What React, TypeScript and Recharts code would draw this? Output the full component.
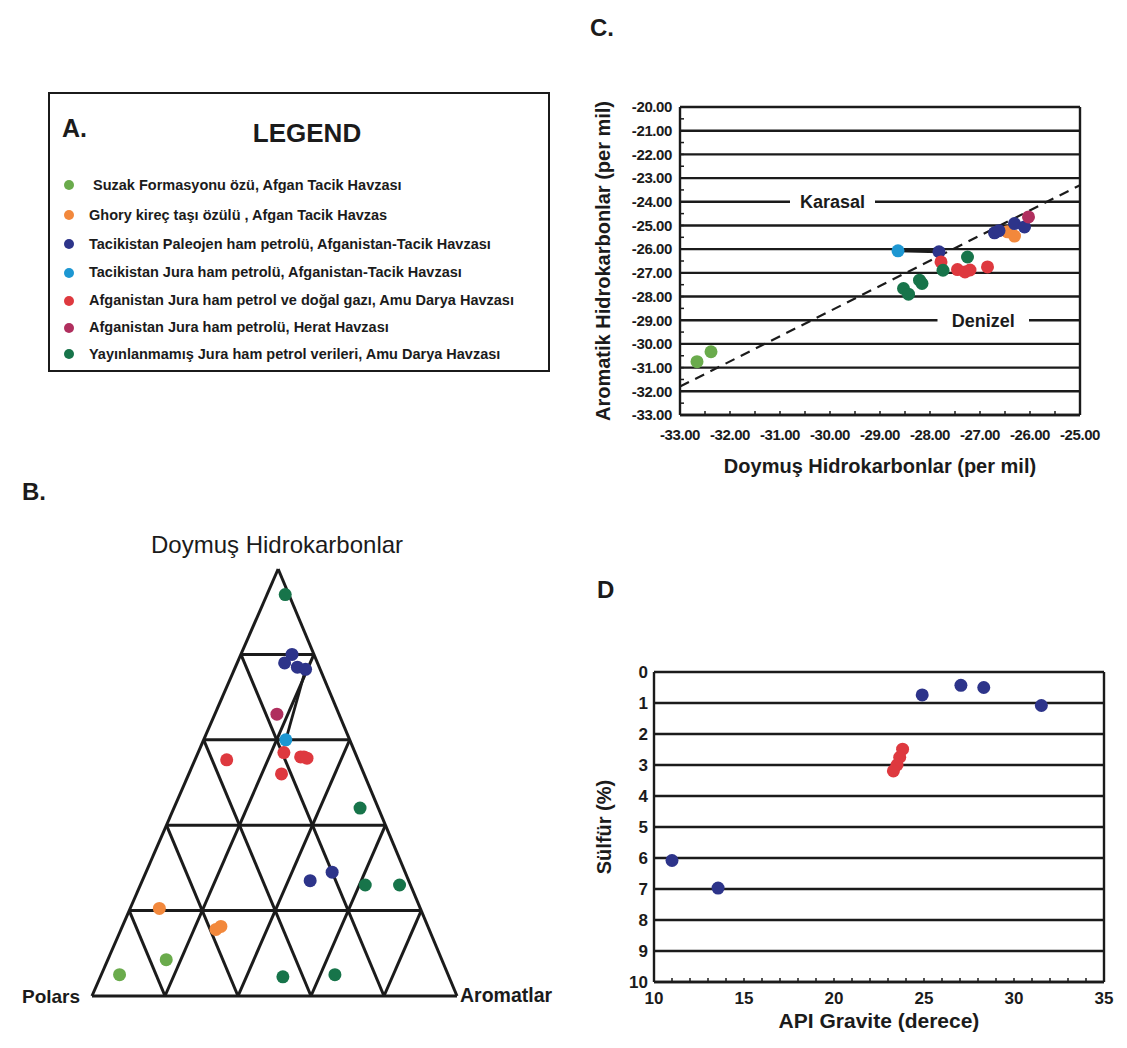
import React from 'react';
import {
  ScatterChart,
  Scatter,
  XAxis,
  YAxis,
  CartesianGrid,
  ReferenceLine,
  ReferenceArea,
  Label,
} from 'recharts';

const FONT = '"Liberation Sans", Arial, Helvetica, sans-serif';
const INK = '#1b1b1b';

// legend groups, same order everywhere
const GROUP_NAMES = [
  'Suzak Formasyonu özü, Afgan Tacik Havzası',
  'Ghory kireç taşı özülü , Afgan Tacik Havzas',
  'Tacikistan Paleojen ham petrolü, Afganistan-Tacik Havzası',
  'Tacikistan Jura ham petrolü, Afganistan-Tacik Havzası',
  'Afganistan Jura ham petrol ve doğal gazı, Amu Darya Havzası',
  'Afganistan Jura ham petrolü, Herat Havzası',
  'Yayınlanmamış Jura ham petrol verileri, Amu Darya Havzası',
];
const GROUP_COLORS = ['#6aab4c', '#f2883c', '#2d348a', '#1d97d2', '#de393f', '#b02f5e', '#17744a'];

// B: ternary [doymuş, aromatik, polar] %
const B_SUZAK = [[8.5, 16, 75.5], [5, 5, 90]];
const B_GHORY = [[20.5, 8, 71.5], [15.6, 26, 58.4], [16.3, 27, 56.7]];
const B_PALEOJEN = [[80, 14, 6], [78, 13, 9], [77, 17, 6], [76.5, 19.5, 4], [29, 51, 20], [27, 46, 27]];
const B_TACIK_JURA = [[60, 22.5, 17.5]];
const B_AMU_DARYA = [[57, 23.5, 19.5], [56, 28.6, 15.4], [56, 29.5, 14.5], [55.7, 30.5, 13.8], [55.3, 8.7, 36], [52, 25.4, 22.6]];
const B_HERAT = [[66, 17, 17]];
const B_YAYIN = [[94, 5, 1], [44, 51, 5], [26, 61.6, 12.4], [26, 71, 3], [4.5, 50, 45.5], [5, 64, 31]];
const B_SERIES = [B_SUZAK, B_GHORY, B_PALEOJEN, B_TACIK_JURA, B_AMU_DARYA, B_HERAT, B_YAYIN];
const B_TIE = [[76.5, 19.5, 4], [60, 22.5, 17.5]];
const B_STEPS = [0.2, 0.4, 0.6, 0.8];
const B_APEX = 0.51; // apex sits a touch right of centre in the original drawing

// C: doymuş (x) vs aromatik (y), per mil
const C_SUZAK = [[-32.66, -30.75], [-32.38, -30.33]];
const C_GHORY = [[-26.45, -25.27], [-26.31, -25.45]];
const C_PALEOJEN = [[-27.82, -26.11], [-26.71, -25.31], [-26.62, -25.22], [-26.31, -24.92], [-26.11, -25.06]];
const C_TACIK_JURA = [[-28.64, -26.07]];
const C_AMU_DARYA = [[-27.78, -26.54], [-27.45, -26.86], [-27.3, -26.96], [-27.2, -26.88], [-26.85, -26.75]];
const C_HERAT = [[-26.03, -24.64]];
const C_YAYIN = [[-27.74, -26.89], [-27.25, -26.33], [-28.53, -27.66], [-28.43, -27.9], [-28.21, -27.31], [-28.16, -27.45]];
const C_SERIES = [C_SUZAK, C_GHORY, C_PALEOJEN, C_TACIK_JURA, C_AMU_DARYA, C_HERAT, C_YAYIN];
const C_TIE = [[-28.64, -26.07], [-27.82, -26.11]];
const C_DIVIDE = [[-33, -31.8], [-25, -23.3]];
const C_X_MAJOR = [-33, -32, -31, -30, -29, -28, -27, -26, -25];
const C_X_MINOR = [-32.5, -31.5, -30.5, -29.5, -28.5, -27.5, -26.5, -25.5];
const C_Y_MAJOR = [-33, -32, -31, -30, -29, -28, -27, -26, -25, -24, -23, -22, -21, -20];
const C_Y_MINOR = [-32.5, -31.5, -30.5, -29.5, -28.5, -27.5, -26.5, -25.5, -24.5, -23.5, -22.5, -21.5, -20.5];
const C_ZONES = [
  { text: 'Karasal', x1: -30.8, x2: -29.1, y: -24 },
  { text: 'Denizel', x1: -27.85, x2: -26.02, y: -29 },
];

// D: API gravite vs sülfür %
const D_PALEOJEN = [[24.9, 0.74], [27.05, 0.43], [28.32, 0.5], [31.52, 1.08], [11.0, 6.08], [13.56, 6.97]];
const D_AMU_DARYA = [[23.81, 2.49], [23.65, 2.75], [23.5, 3.0], [23.3, 3.19]];
const D_X_TICKS = [10, 11, 12, 13, 14, 15, 16, 17, 18, 19, 20, 21, 22, 23, 24, 25, 26, 27, 28, 29, 30, 31, 32, 33, 34, 35];
const D_Y_TICKS = [0, 1, 2, 3, 4, 5, 6, 7, 8, 9, 10];

const toXY = (pts: number[][]) => pts.map(([x, y]) => ({ x, y }));
// barycentric -> plot coords: Polars (0,0), Aromatlar (1,0), Doymuş (APEX,1)
const tern = (s: number, a: number) => ({ x: a + s * B_APEX, y: s });
const toTernary = (pts: number[][]) =>
  pts.map(([s, a, p]) => {
    const t = s + a + p;
    return tern(s / t, a / t);
  });

const triLines = [
  [tern(0, 0), tern(0, 1)],
  [tern(0, 0), tern(1, 0)],
  [tern(0, 1), tern(1, 0)],
  ...B_STEPS.flatMap((k) => [
    [tern(k, 0), tern(k, 1 - k)], // constant doymuş
    [tern(0, k), tern(1 - k, k)], // constant aromatik
    [tern(0, 1 - k), tern(1 - k, 0)], // constant polar
  ]),
];

const dot = (r: number, color: string) => (props: any) =>
  <circle cx={props.cx} cy={props.cy} r={r} fill={color} />;

const bold = (size: number) => ({ fill: INK, fontSize: size, fontWeight: 700, fontFamily: FONT });

function Txt({ x, y, size, weight = 700, center = false, children }: any) {
  return (
    <div
      style={{
        position: 'absolute',
        left: x,
        top: y - size * 0.49,
        fontSize: size,
        lineHeight: 1,
        fontWeight: weight,
        color: INK,
        whiteSpace: 'nowrap',
        transform: center ? 'translateX(-50%)' : undefined,
      }}
    >
      {children}
    </div>
  );
}

function LegendBox() {
  const rowY = [185, 215, 244, 272.5, 300.5, 327.5, 354];
  return (
    <>
      <div
        style={{
          position: 'absolute',
          left: 48,
          top: 92,
          width: 502,
          height: 280,
          border: `2px solid ${INK}`,
          boxSizing: 'border-box',
        }}
      />
      <Txt x={62} y={128} size={25}>A.</Txt>
      <Txt x={307} y={133} size={26} center>LEGEND</Txt>
      {GROUP_NAMES.map((name, i) => (
        <React.Fragment key={name}>
          <div
            style={{
              position: 'absolute',
              left: 64,
              top: rowY[i] - 5,
              width: 10,
              height: 10,
              borderRadius: 5,
              background: GROUP_COLORS[i],
            }}
          />
          <Txt x={i === 0 ? 93 : 89} y={rowY[i]} size={14.5}>{name}</Txt>
        </React.Fragment>
      ))}
    </>
  );
}

function Ternary() {
  const tie = toTernary(B_TIE);
  return (
    <div style={{ position: 'absolute', left: 0, top: 540 }}>
      <ScatterChart width={560} height={480} margin={{ top: 29, right: 103, bottom: 24, left: 92 }}>
        <XAxis type="number" dataKey="x" domain={[0, 1]} hide />
        <YAxis type="number" dataKey="y" domain={[0, 1]} hide />
        {triLines.map((seg, i) => (
          <ReferenceLine key={i} segment={seg} stroke={INK} strokeWidth={3} />
        ))}
        <ReferenceLine segment={tie} stroke={INK} strokeWidth={2.8} />
        {B_SERIES.map((pts, i) => (
          <Scatter key={i} data={toTernary(pts)} shape={dot(6.5, GROUP_COLORS[i])} isAnimationActive={false} />
        ))}
      </ScatterChart>
    </div>
  );
}

function IsotopeChart() {
  const xTicks = [...C_X_MAJOR, ...C_X_MINOR].sort((a, b) => a - b);
  const yTicks = [...C_Y_MAJOR, ...C_Y_MINOR].sort((a, b) => a - b);
  const fmt = (v: number) => (Number.isInteger(v) ? v.toFixed(2) : '');
  return (
    <div style={{ position: 'absolute', left: 580, top: 80 }}>
      <ScatterChart width={547} height={420} margin={{ top: 27, right: 47, bottom: 55, left: 20 }}>
        <CartesianGrid vertical={false} horizontalValues={C_Y_MAJOR} stroke={INK} strokeWidth={2.4} />
        <XAxis
          type="number"
          dataKey="x"
          domain={[-33, -25]}
          ticks={xTicks}
          interval={0}
          tickFormatter={fmt}
          tickSize={-4}
          tickMargin={18}
          height={30}
          axisLine={{ stroke: INK, strokeWidth: 2.4 }}
          tickLine={{ stroke: INK, strokeWidth: 1.5 }}
          tick={{ ...bold(15), letterSpacing: -0.4 }}
        >
          <Label value="Doymuş Hidrokarbonlar  (per mil)" position="bottom" offset={14} {...bold(20)} />
        </XAxis>
        <YAxis
          type="number"
          dataKey="y"
          domain={[-33, -20]}
          ticks={yTicks}
          interval={0}
          tickFormatter={fmt}
          tickSize={-4}
          tickMargin={12}
          width={80}
          axisLine={{ stroke: INK, strokeWidth: 2.4 }}
          tickLine={{ stroke: INK, strokeWidth: 1.5 }}
          tick={{ ...bold(15), letterSpacing: -0.4 }}
        >
          <Label
            value="Aromatik Hidrokarbonlar (per mil)"
            angle={-90}
            position="insideLeft"
            offset={3}
            style={{ textAnchor: 'middle' }}
            {...bold(20)}
          />
        </YAxis>
        <ReferenceLine x={-25} stroke={INK} strokeWidth={2.4} />
        {C_ZONES.map((z) => (
          <ReferenceArea
            key={z.text}
            x1={z.x1}
            x2={z.x2}
            y1={z.y - 0.3}
            y2={z.y + 0.3}
            fill="#fff"
            fillOpacity={1}
            stroke="none"
            label={{ value: z.text, position: 'center', ...bold(18) }}
          />
        ))}
        <ReferenceLine segment={toXY(C_DIVIDE)} stroke={INK} strokeWidth={2.2} strokeDasharray="10 7" />
        <ReferenceLine segment={toXY(C_TIE)} stroke={INK} strokeWidth={3} />
        {C_SERIES.map((pts, i) => (
          <Scatter key={i} data={toXY(pts)} shape={dot(6.5, GROUP_COLORS[i])} isAnimationActive={false} />
        ))}
      </ScatterChart>
    </div>
  );
}

function SulfurChart() {
  return (
    <div style={{ position: 'absolute', left: 580, top: 640 }}>
      <ScatterChart width={547} height={408} margin={{ top: 32, right: 23, bottom: 36, left: 14 }}>
        <CartesianGrid vertical={false} horizontalValues={D_Y_TICKS} stroke={INK} strokeWidth={2.4} />
        <XAxis
          type="number"
          dataKey="x"
          domain={[10, 35]}
          ticks={D_X_TICKS}
          interval={0}
          tickFormatter={(v: number) => (v % 5 === 0 ? String(v) : '')}
          tickSize={-4}
          tickMargin={14}
          height={30}
          axisLine={{ stroke: INK, strokeWidth: 2.4 }}
          tickLine={{ stroke: INK, strokeWidth: 1.5 }}
          tick={bold(17)}
        >
          <Label value="API Gravite (derece)" position="bottom" offset={1} {...bold(21)} />
        </XAxis>
        <YAxis
          type="number"
          dataKey="y"
          domain={[0, 10]}
          reversed
          ticks={D_Y_TICKS}
          interval={0}
          tickSize={0}
          tickMargin={6}
          width={60}
          tickLine={false}
          axisLine={{ stroke: INK, strokeWidth: 2.4 }}
          tick={bold(17)}
        >
          <Label
            value="Sülfür (%)"
            angle={-90}
            position="insideLeft"
            offset={10}
            style={{ textAnchor: 'middle' }}
            {...bold(20)}
          />
        </YAxis>
        <ReferenceLine x={35} stroke={INK} strokeWidth={2.4} />
        <Scatter data={toXY(D_PALEOJEN)} shape={dot(6.5, GROUP_COLORS[2])} isAnimationActive={false} />
        <Scatter data={toXY(D_AMU_DARYA)} shape={dot(6.5, GROUP_COLORS[4])} isAnimationActive={false} />
      </ScatterChart>
    </div>
  );
}

export default function App() {
  return (
    <div
      style={{
        position: 'absolute',
        left: 0,
        top: 0,
        width: 1127,
        height: 1048,
        background: '#fff',
        fontFamily: FONT,
        overflow: 'hidden',
      }}
    >
      <LegendBox />
      <Txt x={22} y={492} size={24}>B.</Txt>
      <Txt x={277} y={545} size={24} weight={400} center>Doymuş Hidrokarbonlar</Txt>
      <Txt x={22} y={996} size={19}>Polars</Txt>
      <Txt x={460} y={996} size={19.5}>Aromatlar</Txt>
      <Ternary />
      <Txt x={590} y={28} size={24}>C.</Txt>
      <IsotopeChart />
      <Txt x={597} y={590} size={24}>D</Txt>
      <SulfurChart />
    </div>
  );
}
